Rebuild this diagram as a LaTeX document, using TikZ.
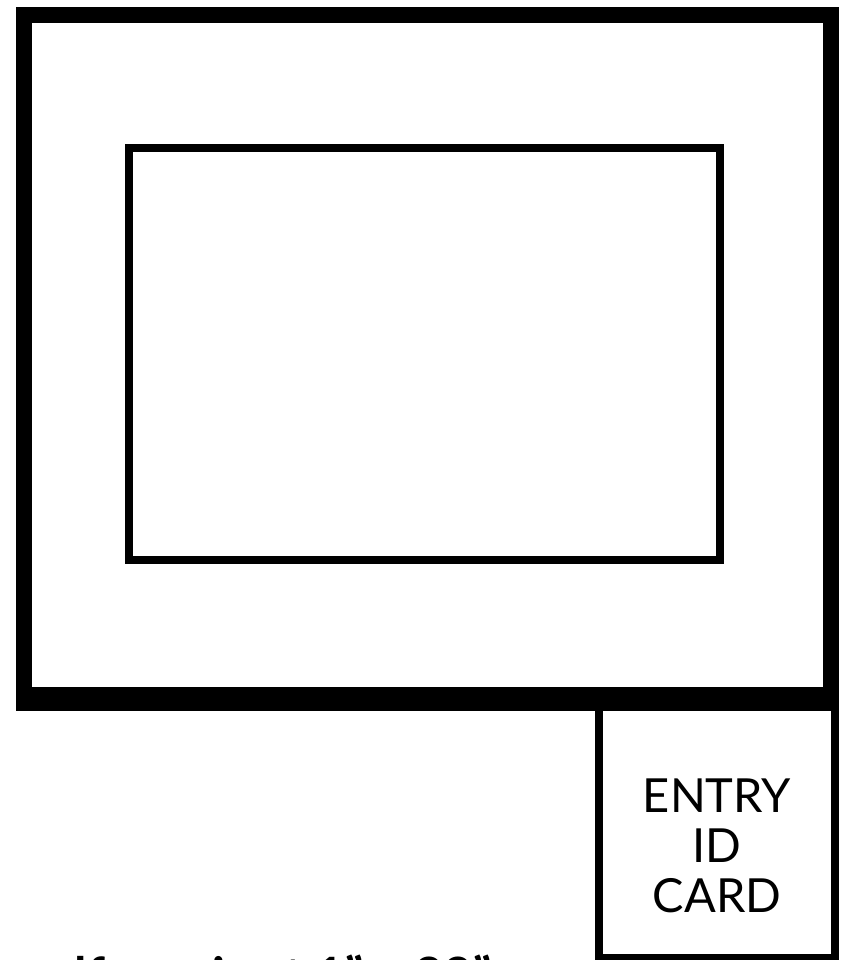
\documentclass[tikz,border=0pt]{standalone}
\usepackage{fontspec}
\setmainfont{Lato}
\usepackage{tikz}
\usetikzlibrary{positioning}

\tikzset{
  frame line/.style={draw=black,line width=16pt,minimum width=807pt,minimum height=680pt,inner sep=0pt},
  thin box/.style={draw=black,line width=8pt,inner sep=0pt},
}

\begin{document}
\begin{tikzpicture}[x=1pt,y=1pt]
\useasboundingbox (0,0) rectangle (844,-960);
\clip (0,0) rectangle (844,-960);
% kiosk housing and screen
\node[frame line] (frame) at (427.5,-355) {};
\node[thin box,minimum width=590.5pt,minimum height=412pt] (screen) at (424.25,-354) {};
% card slot below the housing
\node[thin box,minimum width=236pt,minimum height=263pt] (card) at (717,-826.5) {};
\draw[line width=16pt] (frame.south west) -- (frame.south east);
\node[align=center,font=\fontsize{47}{50}\selectfont] (cardlbl) at ([yshift=-19.5pt]card.center) {ENTRY\\ID\\CARD};
% note, cut by the page edge
\node[anchor=base west,inner sep=0pt,font=\fontsize{50}{60}\bfseries\selectfont] (note) at (26,-993) {self-use is at 1" x 22"};
\end{tikzpicture}
\end{document}
